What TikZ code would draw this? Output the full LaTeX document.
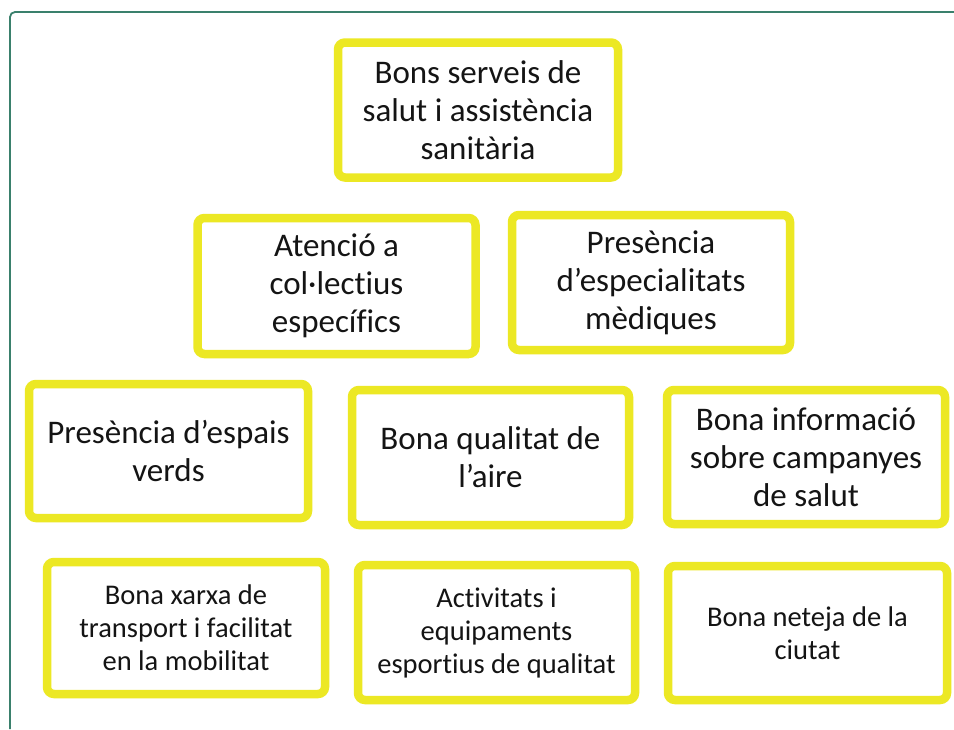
\documentclass[tikz,border=0pt]{standalone}
\usepackage{fontspec}
\setmainfont{Carlito}[Ligatures={NoCommon,TeX}]
\definecolor{boxyellow}{RGB}{236,232,36}
\definecolor{frameteal}{RGB}{58,128,108}
\definecolor{txt}{RGB}{20,20,20}
\begin{document}
\begin{tikzpicture}[x=1pt,y=-1pt,
  card/.style={draw=boxyellow, line width=8.5pt, rounded corners=7pt, fill=white,
    align=center, inner sep=0pt, text=txt, minimum width=278pt, minimum height=134pt},
  big/.style={font=\fontsize{33}{38}\selectfont},
  small/.style={font=\fontsize{28.5}{33}\selectfont}]
\useasboundingbox (0,0) rectangle (954,729);
\fill[white] (0,0) rectangle (954,729);
\coordinate (fbl) at (10,729);
\coordinate (ftr) at (954,12);
\draw[frameteal, line width=1.8pt, rounded corners=5pt] (fbl) |- (ftr);

\node[card, big, minimum width=280pt, minimum height=135pt] (b1) at (478,110) {Bons serveis de\\salut i assistència\\sanitària};
\node[card, big, minimum width=278pt, minimum height=136pt] (b2) at (336.5,286) {Atenció a\\col·lectius\\específics};
\node[card, big, minimum width=278pt, minimum height=135pt] (b3) at (651,282.5) {Presència\\d’especialitats\\mèdiques};
\node[card, big, minimum width=279pt, minimum height=134pt] (b4) at (168.5,451) {Presència d’espais\\verds};
\node[card, big, minimum width=277pt, minimum height=135pt] (b5) at (490.5,457.5) {Bona qualitat de\\l’aire};
\node[card, big, minimum width=278pt, minimum height=134pt] (b6) at (806,457) {Bona informació\\sobre campanyes\\de salut};
\node[card, small, minimum width=278pt, minimum height=132pt] (b7) at (186,628) {Bona xarxa de\\transport i facilitat\\en la mobilitat};
\node[card, small, minimum width=277pt, minimum height=135pt] (b8) at (496.5,632.5) {Activitats i\\equipaments\\esportius de qualitat};
\node[card, small, minimum width=279pt, minimum height=134pt] (b9) at (807.5,633) {Bona neteja de la\\ciutat};
\end{tikzpicture}
\end{document}
